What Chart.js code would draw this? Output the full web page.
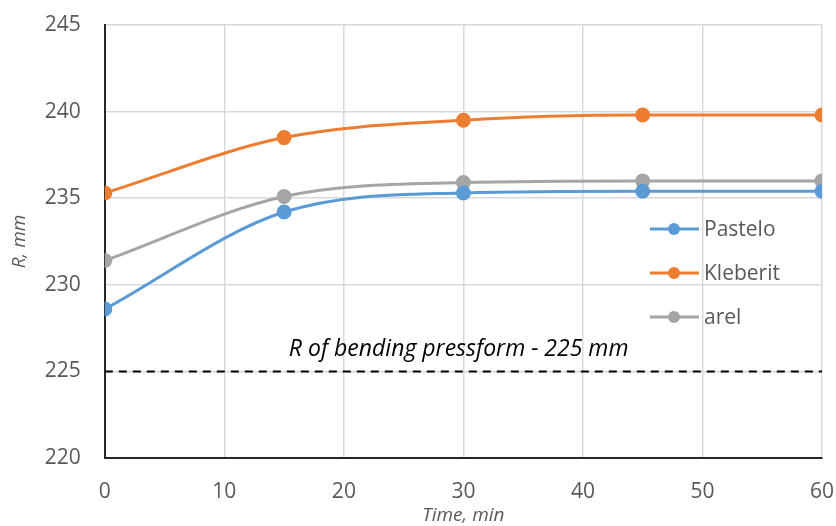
<!DOCTYPE html>
<html>
<head>
<meta charset="utf-8">
<script src="https://cdn.jsdelivr.net/npm/chart.js@4"></script>
<style>
  html, body { margin: 0; padding: 0; background: #fff; }
  #wrap { width: 836px; height: 526px; }
</style>
</head>
<body>
<div id="wrap"><canvas id="r-chart" width="836" height="526"></canvas></div>
<script>
// data
const times = [0, 15, 30, 45, 60];
const pastelo = [228.6, 234.2, 235.3, 235.4, 235.4];
const kleberit = [235.3, 238.5, 239.5, 239.8, 239.8];
const arel = [231.4, 235.1, 235.9, 236.0, 236.0];
const pressformR = 225;
const pressformLabel = 'R of bending pressform - 225 mm';

const FONT = '"Open Sans", "DejaVu Sans", sans-serif';

function pts(vals) {
    return vals.map(function (v, i) { return { x: times[i], y: v }; });
}

function series(label, vals, color) {
    return {
        label: label,
        data: pts(vals),
        borderColor: color,
        backgroundColor: color,
        borderWidth: 3,
        pointRadius: 6,
        pointHoverRadius: 6,
        cubicInterpolationMode: 'monotone',
        fill: false
    };
}

// legend drawn inside the plot, Excel style
const insideLegend = {
    id: 'insideLegend',
    afterDatasetsDraw: function (chart) {
        const ctx = chart.ctx;
        const area = chart.chartArea;
        const x0 = area.right - 172;
        const items = chart.data.datasets.slice(0, 3);
        ctx.save();
        ctx.font = '21px ' + FONT;
        ctx.textBaseline = 'middle';
        items.forEach(function (ds, i) {
            const y = area.top + 204 + i * 44;
            ctx.strokeStyle = ds.borderColor;
            ctx.lineWidth = 3;
            ctx.beginPath();
            ctx.moveTo(x0, y);
            ctx.lineTo(x0 + 49, y);
            ctx.stroke();
            ctx.fillStyle = ds.borderColor;
            ctx.beginPath();
            ctx.arc(x0 + 24, y, 6, 0, Math.PI * 2);
            ctx.fill();
            ctx.fillStyle = '#595959';
            ctx.fillText(ds.label, x0 + 54, y + 1);
        });
        ctx.restore();
    }
};

// caption above the dashed reference line
const refLabel = {
    id: 'refLabel',
    afterDatasetsDraw: function (chart) {
        const ctx = chart.ctx;
        const xs = chart.scales.x;
        const ys = chart.scales.y;
        ctx.save();
        ctx.font = 'italic 23px ' + FONT;
        ctx.fillStyle = '#000';
        ctx.textAlign = 'center';
        ctx.textBaseline = 'bottom';
        ctx.fillText(pressformLabel, xs.getPixelForValue(29.6), ys.getPixelForValue(pressformR) - 10);
        ctx.restore();
    }
};

const ctx = document.getElementById('r-chart').getContext('2d');
new Chart(ctx, {
    type: 'line',
    data: {
        datasets: [
            series('Pastelo', pastelo, '#5b9bd5'),
            series('Kleberit', kleberit, '#ed7d31'),
            series('arel', arel, '#a5a5a5'),
            {
                label: 'pressform',
                data: [{ x: times[0], y: pressformR }, { x: times[times.length - 1], y: pressformR }],
                borderColor: '#000',
                borderWidth: 2,
                borderDash: [8, 6],
                pointRadius: 0,
                fill: false
            }
        ]
    },
    options: {
        responsive: false,
        animation: false,
        layout: { padding: { top: 25, right: 0, left: 8, bottom: -1 } },
        plugins: {
            legend: { display: false },
            tooltip: { enabled: false }
        },
        scales: {
            x: {
                type: 'linear',
                min: 0,
                max: 60,
                ticks: { stepSize: 10, color: '#595959', font: { family: FONT, size: 21 }, padding: 2 },
                grid: { color: '#d9d9d9', lineWidth: 1.5, tickLength: 19, tickColor: 'rgba(0,0,0,0)' },
                border: { color: '#262626', width: 2 },
                title: {
                    display: true,
                    text: 'Time, min',
                    color: '#595959',
                    font: { family: FONT, size: 19, style: 'italic' },
                    padding: { top: -2, bottom: 0 }
                }
            },
            y: {
                min: 220,
                max: 245,
                ticks: { stepSize: 5, color: '#595959', font: { family: FONT, size: 21 }, padding: 2 },
                grid: { color: '#d9d9d9', lineWidth: 1.5, tickLength: 22, tickColor: 'rgba(0,0,0,0)' },
                border: { color: '#262626', width: 2 },
                title: {
                    display: true,
                    text: 'R, mm',
                    color: '#595959',
                    font: { family: FONT, size: 19, style: 'italic' },
                    padding: { top: 0, bottom: 12 }
                }
            }
        }
    },
    plugins: [insideLegend, refLabel]
});
</script>
</body>
</html>
